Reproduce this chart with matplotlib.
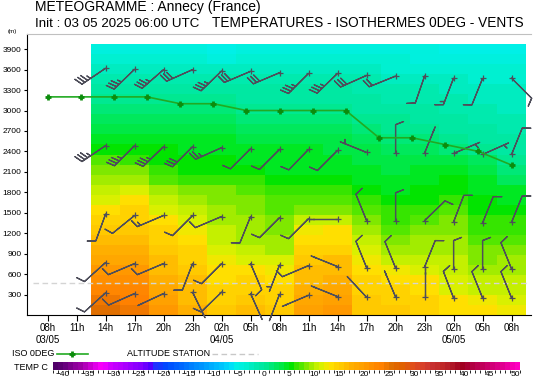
import numpy as np
import matplotlib
matplotlib.use('Agg')
import matplotlib.pyplot as plt
from matplotlib.colors import LinearSegmentedColormap, ListedColormap, BoundaryNorm
from matplotlib.lines import Line2D
import matplotlib.colorbar as mcolorbar

plt.rcParams['font.family'] = ['Liberation Sans', 'DejaVu Sans']

# axe des temps : un tick toutes les 3 h
tick_labels = ['08h\n03/05', '11h', '14h', '17h', '20h', '23h', '02h\n04/05', '05h',
               '08h', '11h', '14h', '17h', '20h', '23h', '02h\n05/05', '05h', '08h']

# temperatures (C) par colonne 14h 03/05 -> 08h 05/05, du sol vers le haut (couches de ~147 m)
temp_cols = [
    [25, 24, 22, 21, 20, 18, 17, 16, 15, 14, 13, 11, 10, 9, 8, 7, 5, 4, 3, 2, 1, 0, -1, -2, -3, -4, -5],
    [24, 23, 22, 21, 20, 18, 17, 16, 15, 14, 14, 13, 11, 9, 8, 6, 5, 4, 3, 2, 1, 0, -1, -2, -3, -4, -5],
    [20, 19, 18, 17, 16, 16, 15, 14, 14, 13, 11, 10, 9, 7, 6, 5, 5, 4, 3, 2, 1, 0, -1, -2, -3, -4, -5],
    [17, 16, 16, 16, 15, 14, 14, 13, 12, 11, 10, 9, 8, 6, 5, 5, 4, 4, 3, 2, 1, 0, -1, -2, -3, -4, -5],
    [15, 14, 14, 13, 13, 12, 11, 10, 10, 9, 9, 8, 8, 6, 5, 5, 4, 4, 3, 2, 1, 0, -1, -2, -3, -5, -6],
    [16, 15, 14, 14, 13, 11, 10, 9, 9, 9, 8, 8, 7, 6, 5, 4, 4, 3, 2, 1, 0, -1, -1, -2, -3, -4, -5],
    [15, 14, 14, 13, 12, 11, 9, 9, 8, 8, 7, 7, 6, 5, 4, 4, 4, 3, 2, 1, 0, -1, -1, -2, -3, -4, -5],
    [19, 18, 17, 16, 16, 15, 14, 13, 12, 10, 8, 7, 6, 5, 4, 4, 4, 3, 2, 1, 0, -1, -1, -2, -3, -4, -5],
    [20, 19, 18, 17, 16, 16, 14, 13, 13, 10, 8, 7, 6, 5, 4, 4, 3, 3, 2, 1, 0, -1, -1, -2, -3, -4, -5],
    [15, 15, 14, 14, 13, 12, 11, 10, 9, 8, 7, 6, 5, 4, 4, 3, 3, 2, 1, 0, -1, -1, -2, -2, -3, -4, -5],
    [15, 14, 14, 13, 12, 10, 9, 8, 7, 6, 6, 5, 4, 4, 3, 3, 2, 1, 0, 0, -1, -2, -2, -3, -4, -4, -5],
    [14, 14, 13, 13, 11, 10, 9, 9, 8, 7, 6, 5, 5, 4, 4, 3, 2, 1, 0, -1, -1, -2, -2, -3, -4, -5, -5],
    [13, 13, 11, 11, 10, 10, 9, 9, 8, 8, 7, 6, 5, 5, 4, 3, 1, 0, -1, -1, -2, -2, -3, -3, -4, -5, -6],
    [13, 12, 10, 10, 9, 8, 8, 7, 6, 6, 5, 5, 4, 4, 3, 2, 0, -1, -1, -2, -2, -3, -3, -4, -4, -5, -6],
    [12, 11, 10, 10, 9, 9, 8, 7, 6, 6, 5, 4, 4, 2, 1, 0, -1, -1, -2, -2, -3, -3, -3, -4, -4, -5, -6],
]

# isotherme 0 (m)
iso0_alt = [3200, 3200, 3200, 3200, 3100, 3100, 3000, 3000, 3000, 3000, 2600, 2600, 2500, 2400, 2200]
station_alt = 465

# vents : 5 niveaux, altitude (m), direction (deg), force (kt)
lev_alt = [
    [3620, 3605, 3600, 3600, 3580, 3575, 3555, 3545, 3545, 3515, 3505, 3505, 3475, 3470, 3475],
    [2485, 2485, 2470, 2470, 2455, 2440, 2430, 2430, 2415, 2385, 2375, 2375, 2370, 2355, 2355],
    [1480, 1460, 1460, 1460, 1445, 1445, 1430, 1415, 1415, 1385, 1375, 1385, 1365, 1350, 1360],
    [770, 755, 755, 755, 755, 755, 735, 725, 710, 695, 690, 705, 675, 675, 675],
    [325, 315, 315, 335, 335, 315, 305, 290, 270, 260, 265, 265, 250, 250, 250],
]
wind_dir = [
    [236, 226, 229, 246, 226, 247, 247, 225, 226, 246, 248, 199, 201, 202, 135],
    [236, 225, 226, 225, 246, 225, 225, 224, 225, 292, 0, 22, 67, 66, 22],
    [200, 231, 247, 225, 247, 202, 225, 225, 270, 338, 0, 46, 21, 22, 22],
    [228, 247, 247, 201, 225, 157, 201, 247, 292, 338, 338, 22, 0, 0, 338],
    [228, 246, 245, 154, 226, 156, 201, 247, 292, 317, 337, 0, 339, 338, 338],
]
wind_spd = [
    [35, 35, 35, 30, 35, 30, 30, 35, 35, 30, 20, 10, 15, 10, 10],
    [35, 35, 35, 30, 25, 10, 10, 10, 10, 5, 10, 3, 5, 5, 10],
    [10, 10, 15, 10, 10, 10, 10, 10, 3, 10, 10, 10, 10, 10, 10],
    [10, 10, 10, 10, 10, 10, 5, 10, 3, 10, 10, 10, 10, 10, 10],
    [10, 10, 3, 3, 10, 3, 3, 3, 3, 3, 3, 3, 10, 10, 10],
]

# echelle de couleurs
temp_anchor = [-42, -40, -37, -34, -33, -31, -28, -25, -23, -22, -20, -15, -10, -7, -6, -5, -4, -3,
               -2, -1, 0, 1, 2, 3, 4, 5, 6, 7, 8, 9, 10, 11, 12, 13, 14, 15, 16, 17, 18, 19, 20,
               21, 22, 23, 24, 25, 27, 29, 31, 33, 35, 37, 39, 41, 44, 47, 50, 51]
temp_anchor_col = ['#500068', '#6a0080', '#a000a8', '#e000e8', '#ff00ff', '#d000ff', '#a800ff',
                   '#8000ff', '#5000ff', '#2030ff', '#0048ff', '#0080ff', '#00b8ff', '#00e0f8',
                   '#00f0e8', '#00f0dc', '#00f0d0', '#00ecc0', '#00eab0', '#00e8a0', '#00e890',
                   '#00e878', '#00e860', '#00e840', '#00e820', '#00e400', '#30e400', '#58e800',
                   '#80e800', '#a0ec00', '#c0f000', '#dcf000', '#f0e800', '#ffe000', '#ffd400',
                   '#ffc800', '#ffbc00', '#ffb000', '#ffa800', '#ffa000', '#ff9800', '#ff9000',
                   '#ff8800', '#ff8000', '#f07800', '#e07000', '#e06000', '#e05018', '#d84028',
                   '#c83030', '#c02828', '#b01828', '#a00020', '#b00040', '#c80068', '#e00090',
                   '#ff00c0', '#ff00c8']

t0, t1 = temp_anchor[0], temp_anchor[-1]
base = LinearSegmentedColormap.from_list(
    'temp', list(zip([(t - t0) / (t1 - t0) for t in temp_anchor], temp_anchor_col)))
bounds = np.arange(-42, 52)
cmap = ListedColormap(base((bounds[:-1] - t0) / (t1 - t0)))
norm = BoundaryNorm(bounds, cmap.N)

fig = plt.figure(figsize=(5.4, 3.8), dpi=100)
ax = fig.add_axes([27 / 540, 1 - 315 / 380, 504 / 540, 281.5 / 380])

# champ de temperature
T = np.array(temp_cols).T
x_edges = np.arange(1.5, 17, 1)
y_edges = np.linspace(0, 3973, T.shape[0] + 1)
ax.pcolormesh(x_edges, y_edges, T, cmap=cmap, norm=norm, zorder=1)

# altitude station
ax.hlines(station_alt, -0.5, 16.5, colors='#d4d4d4', linestyles=(0, (4, 2.5)), lw=1, zorder=2)

# barbules de vent
bx = np.tile(np.arange(2, 17), len(lev_alt)).astype(float)
by = np.concatenate(lev_alt).astype(float)
rad = np.radians(np.concatenate(wind_dir))
spd = np.concatenate(wind_spd).astype(float)
u = -spd * np.sin(rad)
v = -spd * np.cos(rad)
calm = spd < 5
bcol = '#4e4e5a'
kw = dict(length=6.4, pivot='tip', color=bcol, linewidth=0.9, clip_on=False, zorder=3)
ax.barbs(bx[~calm], by[~calm], u[~calm], v[~calm],
         sizes=dict(height=0.28, spacing=0.12, width=0.22), **kw)
ax.barbs(bx[calm], by[calm], u[calm], v[calm],
         sizes=dict(height=0.0, spacing=0.12, width=0.22), **kw)
ax.plot(bx, by, '+', color=bcol, ms=4, mew=0.9, zorder=4, clip_on=False)

# isotherme 0
iso_x = np.linspace(0, 16, len(iso0_alt))
ax.plot(iso_x, iso0_alt, color='#22aa22', lw=1.2, marker='+', ms=5, mew=2,
        mec='#0c8c0c', zorder=5)

ax.set_xlim(-0.71, 16.67)
ax.set_ylim(0, 4130)
ax.set_xticks(range(len(tick_labels)))
ax.set_xticklabels(tick_labels)
ax.set_yticks(np.arange(300, 4000, 300))
ax.tick_params(axis='x', labelsize=7, length=4, pad=2)
ax.tick_params(axis='y', labelsize=6, length=2, pad=2)
ax.spines['right'].set_visible(False)
ax.spines['top'].set_color('#c0c0c0')

# titres
fig.text(35 / 540, 1 - 11.5 / 380, 'METEOGRAMME : Annecy (France)', fontsize=10, va='baseline')
fig.text(35 / 540, 1 - 27 / 380, 'Init : 03 05 2025 06:00 UTC', fontsize=9.6, va='baseline')
fig.text(212 / 540, 1 - 27 / 380, 'TEMPERATURES - ISOTHERMES 0DEG - VENTS', fontsize=9.85,
         va='baseline')
fig.text(8 / 540, 1 - 31 / 380, '(m)', fontsize=4.5, va='center')

# legende
fig.text(12 / 540, 1 - 354 / 380, 'ISO 0DEG', fontsize=6.5, va='center')
fig.add_artist(Line2D([57 / 540, 88 / 540], [1 - 354 / 380] * 2, color='#22aa22', lw=1.2))
fig.add_artist(Line2D([72 / 540], [1 - 354 / 380], marker='+', ms=5, mew=2, color='#0c8c0c'))
fig.text(127 / 540, 1 - 354 / 380, 'ALTITUDE STATION', fontsize=6.5, va='center')
fig.add_artist(Line2D([212 / 540, 258 / 540], [1 - 354 / 380] * 2, color='#c8c8c8', lw=1,
                      linestyle=(0, (4, 2.5))))
fig.text(14 / 540, 1 - 368 / 380, 'TEMP C', fontsize=6.5, va='center')

cax = fig.add_axes([53 / 540, 1 - 370 / 380, 467 / 540, 8 / 380])
cb = mcolorbar.ColorbarBase(cax, cmap=cmap, norm=norm, orientation='horizontal',
                            ticks=np.arange(-40, 55, 5))
cb.outline.set_visible(False)
cax.tick_params(labelsize=6, length=0, pad=0.5)

fig.savefig('out.png', dpi=100)
